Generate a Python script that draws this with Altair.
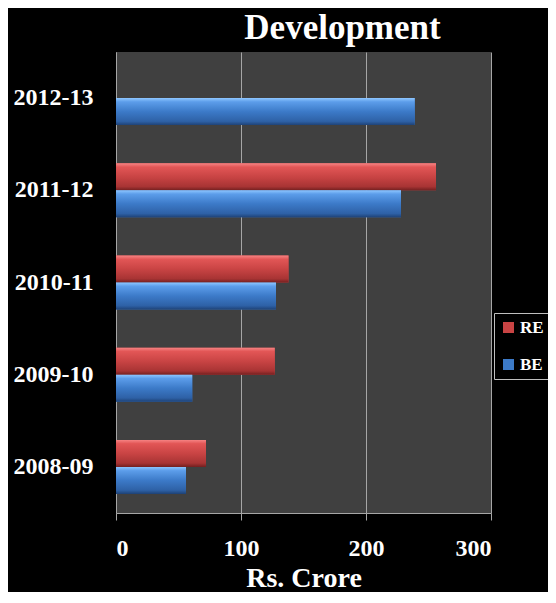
import altair as alt
import pandas as pd

years = ["2012-13", "2011-12", "2010-11", "2009-10", "2008-09"]
re_values = [None, 256, 138, 127, 72]
be_values = [239, 228, 128, 61, 56]
series = ["RE", "BE"]
x_ticks = [0, 100, 200, 300]

rows = []
for y, r, b in zip(years, re_values, be_values):
    if r is not None:
        rows.append({"Year": y, "Series": "RE", "Value": r})
    if b is not None:
        rows.append({"Year": y, "Series": "BE", "Value": b})
df = pd.DataFrame(rows)

FONT = "Liberation Serif"
GRID = "#A6A6A6"

x_enc = alt.X(
    "Value:Q",
    scale=alt.Scale(domain=[0, 300], nice=False),
    axis=alt.Axis(
        values=x_ticks,
        title="Rs. Crore",
        grid=True,
        gridColor=GRID,
        gridWidth=1,
        domainColor=GRID,
        tickColor=GRID,
        tickSize=7,
        labelFont=FONT,
        labelFontSize=24,
        labelFontWeight="bold",
        labelColor="white",
        labelPadding=16,
        titleFont=FONT,
        titleFontSize=28,
        titleFontWeight="bold",
        titleColor="white",
        titlePadding=4,
    ),
)
y_enc = alt.Y(
    "Year:N",
    sort=years,
    scale=alt.Scale(domain=years, paddingInner=0.414, paddingOuter=0.207),
    axis=alt.Axis(
        title=None,
        ticks=False,
        tickSize=0,
        grid=False,
        domainColor=GRID,
        labelFont=FONT,
        labelFontSize=24,
        labelFontWeight="bold",
        labelColor="white",
        labelPadding=23,
    ),
)
yoff = alt.YOffset("Series:N", sort=series, scale=alt.Scale(domain=series, paddingInner=0, paddingOuter=0))

base = alt.Chart(df).mark_bar().encode(
    x=x_enc,
    y=y_enc,
    yOffset=yoff,
    color=alt.Color(
        "Series:N",
        scale=alt.Scale(domain=series, range=["#C94444", "#3C7AC8"]),
        legend=alt.Legend(
            title=None,
            orient="none",
            legendX=378,
            legendY=261,
            direction="vertical",
            padding=6,
            strokeColor="#BFBFBF",
            fillColor="black",
            symbolType="square",
            symbolSize=121,
            symbolStrokeWidth=0,
            labelFont=FONT,
            labelFontSize=17,
            labelFontWeight="bold",
            labelColor="white",
            labelOffset=3,
            rowPadding=19,
        ),
    ),
)

def grad(stops):
    return alt.LinearGradient(
        gradient="linear",
        stops=[alt.GradientStop(offset=o, color=c) for o, c in stops],
        x1=0, x2=0, y1=0, y2=1,
    )

red_grad = grad([(0, "#F68484"), (0.14, "#E25656"), (0.5, "#C94444"), (0.86, "#A83434"), (1, "#742020")])
blue_grad = grad([(0, "#8EC6FF"), (0.14, "#5C9DEA"), (0.5, "#3C7AC8"), (0.86, "#2E61A6"), (1, "#1E4276")])

re_layer = alt.Chart(df).transform_filter(alt.datum.Series == "RE").mark_bar(fill=red_grad).encode(
    x=x_enc, y=y_enc, yOffset=yoff
)
be_layer = alt.Chart(df).transform_filter(alt.datum.Series == "BE").mark_bar(fill=blue_grad).encode(
    x=x_enc, y=y_enc, yOffset=yoff
)

chart = (
    alt.layer(base, re_layer, be_layer)
    .properties(
        width=375,
        height=461,
        background="black",
        padding={"left": 108, "top": 44, "right": 57, "bottom": 79},
        autosize=alt.AutoSizeParams(type="none"),
        title=alt.TitleParams(
            "Development",
            font=FONT,
            fontSize=35,
            fontWeight="bold",
            color="white",
            anchor="middle",
            dx=39,
            dy=40,
            baseline="alphabetic",
            offset=18,
        ),
    )
    .configure_view(fill="#404040", stroke=None)
)

chart.save("out.html", embed_options={"renderer": "svg", "actions": False})
